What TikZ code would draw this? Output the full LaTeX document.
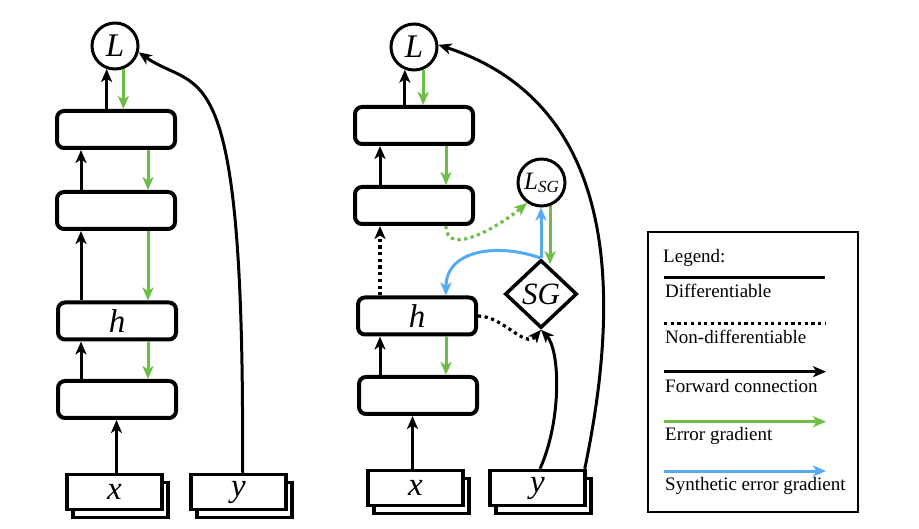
\documentclass[tikz,border=0pt]{standalone}
\usepackage{fontspec}
\setmainfont{Liberation Serif}
\newfontfamily\varfont{Liberation Serif Italic}
\usetikzlibrary{arrows.meta,shapes.geometric,calc,shadows}
\definecolor{gr}{RGB}{110,190,70}
\definecolor{bl}{RGB}{85,170,245}
\begin{document}
\begin{tikzpicture}[x=1pt,y=1pt,
  layer/.style={draw,line width=4pt,rounded corners=7pt,minimum width=118pt,minimum height=37pt,inner sep=0pt,fill=white,font=\fontsize{33}{33}\selectfont\varfont},
  loss/.style={circle,draw,line width=3pt,minimum size=46pt,inner sep=0pt,fill=white,font=\fontsize{33}{33}\selectfont\varfont},
  inbox/.style={draw,line width=3.5pt,minimum width=95pt,minimum height=35pt,inner sep=0pt,fill=white,font=\fontsize{33}{33}\selectfont\varfont,
     copy shadow={shadow xshift=6pt,shadow yshift=-8pt,line width=3.5pt,fill=white,draw=black}},
  tip/.style={-{Stealth[length=13pt,width=11pt,inset=3.5pt]}},
  fwd/.style={tip,line width=3pt,draw=black},
  grad/.style={tip,line width=3pt,draw=gr,color=gr},
  sgrad/.style={tip,line width=3pt,draw=bl,color=bl},
  nodiff/.style={line width=3.2pt,dash pattern=on 3.2pt off 3.5pt},
  lt/.style={anchor=base west,inner sep=0pt,font=\fontsize{19}{22}\selectfont}
]
\useasboundingbox (0,0) rectangle (919,-529);

% ---------- left network ----------
\node[loss]  (L1)  at (115,-46)    {L};
\node[layer] (b11) at (116,-129.5) {};
\node[layer] (b12) at (116,-210.5) {};
\node[layer] (h1)  at (117,-321)   {h};
\node[layer] (b14) at (117,-399.5) {};
\node[inbox] (x1)  at (114.5,-492) {x};
\node[inbox] (y1)  at (238.5,-492) {y};

\draw[fwd] (L1.-110 |- b11.north) -- (L1.-110);
\draw[grad] (L1.-70) -- (L1.-70 |- b11.north);
\draw[fwd] ([xshift=26pt]b12.north west) -- ([xshift=26pt]b11.south west);
\draw[grad] ([xshift=93pt]b11.south west) -- ([xshift=93pt]b12.north west);
\draw[fwd] ([xshift=26pt]b12.south west |- h1.north) -- ([xshift=26pt]b12.south west);
\draw[grad] ([xshift=93pt]b12.south west) -- ([xshift=93pt]b12.south west |- h1.north);
\draw[fwd] ([xshift=25pt]b14.north west) -- ([xshift=25pt]h1.south west);
\draw[grad] ([xshift=92pt]h1.south west) -- ([xshift=92pt]b14.north west);
\draw[fwd] ([xshift=2pt]x1.north) -- ([xshift=2pt]x1.north |- b14.south);
\draw[fwd] ([xshift=4pt]y1.north) .. controls (245,-40) and (200,-95) .. (L1.-15);

% ---------- right network ----------
\node[loss]  (L2)  at (414,-47)    {L};
\node[layer] (b21) at (414,-125.5) {};
\node[layer] (b22) at (414,-205.5) {};
\node[layer] (h2)  at (417,-316)   {h};
\node[layer] (b24) at (418,-395.5) {};
\node[inbox] (x2)  at (415.5,-488) {x};
\node[inbox] (y2)  at (537.5,-488) {y};
\node[loss,minimum size=47pt] (LSG) at (541.5,-182.5)
  {\fontsize{25}{25}\selectfont L\raisebox{-3pt}{\fontsize{17}{17}\selectfont SG}};
\node[diamond,draw,line width=3.5pt,minimum width=72pt,minimum height=68pt,inner sep=0pt,fill=white,
  font=\fontsize{31}{31}\selectfont\varfont] (SG) at (541,-294) {SG};

\draw[fwd] (L2.-112 |- b21.north) -- (L2.-112);
\draw[grad] (L2.-68) -- (L2.-68 |- b21.north);
\draw[fwd] ([xshift=27pt]b22.north west) -- ([xshift=27pt]b21.south west);
\draw[grad] ([xshift=93pt]b21.south west) -- ([xshift=93pt]b22.north west);
\draw[fwd,nodiff] ([xshift=24pt]h2.north west) -- ([xshift=24pt]h2.north west |- b22.south);
\draw[fwd] ([xshift=23pt]b24.north west) -- ([xshift=23pt]b24.north west |- h2.south);
\draw[grad] ([xshift=90pt]h2.south west) -- ([xshift=90pt]h2.south west |- b24.north);
\draw[fwd] ([xshift=-3pt]x2.north) -- ([xshift=-3pt]x2.north |- b24.south);

\draw[grad,nodiff] ([xshift=93pt]b22.south west) to[out=-90,in=-140] (LSG.-125);
\draw[sgrad] (SG.north) -- (SG.north |- LSG.south);
\draw[grad] (LSG.-70) -- ($(LSG.-70 |- SG.north)+(0,-6)$);
\draw[sgrad] (SG.north) to[out=160,in=90,looseness=1.15] ([xshift=90pt]h2.north west);
\draw[fwd,nodiff] (h2.east) to[out=0,in=-130] (SG.south);
\draw[fwd] ([xshift=2.5pt]y2.north) .. controls (562,-420) and (560,-350) .. (SG.south);
\draw[fwd] ([xshift=-2pt]y2.north east) .. controls (620,-300) and (622,-105) .. (L2.5);

% ---------- legend ----------
\node[draw,line width=2.5pt,minimum width=210pt,minimum height=280pt,inner sep=0pt] (leg) at (753,-372) {};
\node[lt] (t0) at (663,-262.5) {Legend:};
\coordinate (s1) at (664,-277.3); \coordinate (e1) at (825,-277.3);
\draw[line width=3pt] (s1) -- (e1);
\node[lt] (t1) at (665,-297.5) {Differentiable};
\coordinate (s2) at (664,-323.3); \coordinate (e2) at (825,-323.3);
\draw[nodiff] (s2) -- (e2);
\node[lt] (t2) at (665,-344) {Non-differentiable};
\coordinate (s3) at (664,-371.7); \coordinate (e3) at (826,-371.7);
\draw[fwd] (s3) -- (e3);
\node[lt] (t3) at (665,-392.7) {Forward connection};
\coordinate (s4) at (664,-421.7); \coordinate (e4) at (826,-421.7);
\draw[grad] (s4) -- (e4);
\node[lt] (t4) at (665,-441) {Error gradient};
\coordinate (s5) at (664,-471); \coordinate (e5) at (826,-471);
\draw[sgrad] (s5) -- (e5);
\node[lt] (t5) at (665,-490) {Synthetic error gradient};
\end{tikzpicture}
\end{document}
